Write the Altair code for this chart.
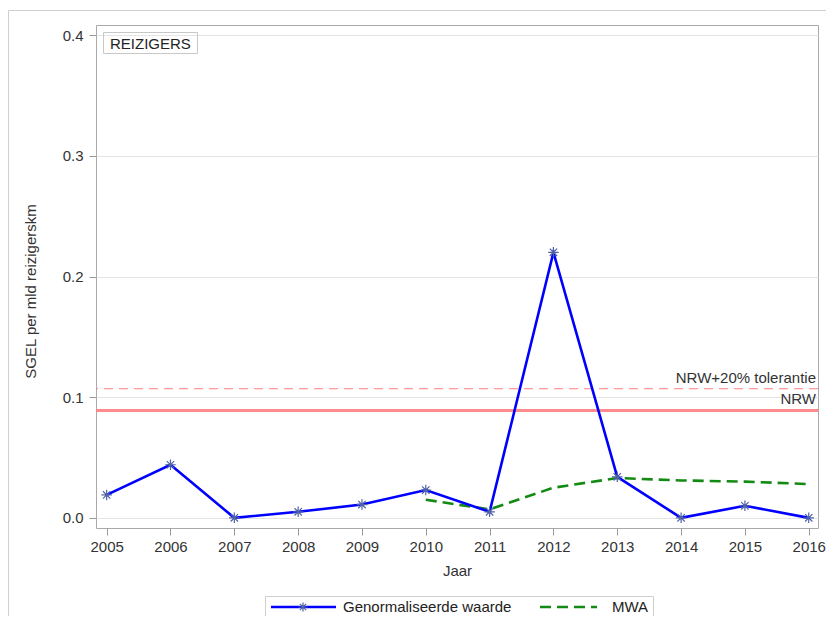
import altair as alt
import pandas as pd

# ---- data ----
years = [2005, 2006, 2007, 2008, 2009, 2010, 2011, 2012, 2013, 2014, 2015, 2016]
genormaliseerd = [0.019, 0.044, 0.000, 0.005, 0.011, 0.023, 0.005, 0.220, 0.034, 0.000, 0.010, 0.000]
mwa_years = [2010, 2011, 2012, 2013, 2014, 2015, 2016]
mwa_values = [0.015, 0.007, 0.025, 0.033, 0.031, 0.030, 0.028]
nrw_value = [0.089]
nrw_tol_value = [0.107]
y_ticks = [0.0, 0.1, 0.2, 0.3, 0.4]
series_names = ["Genormaliseerde waarde", "MWA"]
panel_label = "REIZIGERS"
nrw_label = "NRW"
nrw_tol_label = "NRW+20% tolerantie"

FONT = "Liberation Sans"
BLUE = "#0000ff"
GREEN = "#138a13"
PINK = "#ff8080"
STAR = "M-1,0L1,0M0,-1L0,1M-0.7,-0.7L0.7,0.7M-0.7,0.7L0.7,-0.7"

gen_df = pd.DataFrame({"Jaar": years, "waarde": genormaliseerd})
mwa_df = pd.DataFrame({"Jaar": mwa_years, "waarde": mwa_values})
nrw_df = pd.DataFrame({"waarde": nrw_value, "label": [nrw_label]})
tol_df = pd.DataFrame({"waarde": nrw_tol_value, "label": [nrw_tol_label]})
one = alt.Data(values=[{}])

x_scale = alt.Scale(domain=[2004.833, 2016.145], nice=False, zero=False)
y_scale = alt.Scale(domain=[-0.0084, 0.4084], nice=False, zero=False)

x_axis = alt.Axis(title="Jaar", values=years, format="d", grid=False, domain=False,
                  tickSize=7, tickColor="#999999", labelPadding=4, titlePadding=9,
                  labelFontSize=15, titleFontSize=15, labelColor="#333333",
                  titleColor="#333333", titleFontWeight="normal", labelFont=FONT, titleFont=FONT)
y_axis = alt.Axis(title="SGEL per mld reizigerskm", values=y_ticks, format=".1f", grid=True,
                  gridColor="#e4e4e4", domain=False, tickSize=7, tickColor="#999999",
                  labelPadding=6, titlePadding=24, titleY=266, labelFontSize=15, titleFontSize=15,
                  labelColor="#333333", titleColor="#333333", titleFontWeight="normal",
                  labelFont=FONT, titleFont=FONT)

X = alt.X("Jaar:Q", scale=x_scale, axis=x_axis)
Y = alt.Y("waarde:Q", scale=y_scale, axis=y_axis)

# outer figure border
outer = alt.Chart(one).mark_rect(fillOpacity=0, stroke="#d0d0d0", strokeWidth=1).encode(
    x=alt.value(-87.5), x2=alt.value(760), y=alt.value(-14.5), y2=alt.value(700))

tol_rule = alt.Chart(tol_df).mark_rule(color=PINK, strokeWidth=1, strokeDash=[9, 6]).encode(y=Y)
nrw_rule = alt.Chart(nrw_df).mark_rule(color=PINK, strokeWidth=3, opacity=0.9).encode(y=Y)
tol_text = alt.Chart(tol_df).mark_text(align="right", baseline="alphabetic", dy=-6,
                                       font=FONT, fontSize=15, color="#333333").encode(
    x=alt.value(720), y=Y, text="label:N")
nrw_text = alt.Chart(nrw_df).mark_text(align="right", baseline="alphabetic", dy=-6,
                                       font=FONT, fontSize=15, color="#333333").encode(
    x=alt.value(720), y=Y, text="label:N")

mwa_line = alt.Chart(mwa_df).mark_line(color=GREEN, strokeWidth=2.6, strokeDash=[11, 6]).encode(x=X, y=Y)
gen_line = alt.Chart(gen_df).mark_line(color=BLUE, strokeWidth=2.6).encode(x=X, y=Y)
gen_pts = alt.Chart(gen_df).mark_point(shape=STAR, size=110, filled=False, stroke="#4f62a8",
                                       strokeWidth=1.2, opacity=1).encode(x=X, y=Y)

# panel label box
lab_box = alt.Chart(one).mark_rect(fillOpacity=0, stroke="#c8c8c8", strokeWidth=1).encode(
    x=alt.value(7.5), x2=alt.value(101.5), y=alt.value(7.5), y2=alt.value(28.5))
lab_text = alt.Chart(one).mark_text(align="left", baseline="middle", font=FONT, fontSize=15,
                                    color="#222222").encode(
    x=alt.value(14), y=alt.value(18.5), text=alt.value(panel_label))

# legend (drawn below the plot)
LY = 582
leg_box = alt.Chart(one).mark_rect(fillOpacity=0, stroke="#cfcfcf", strokeWidth=1).encode(
    x=alt.value(169.5), x2=alt.value(557.5), y=alt.value(571.5), y2=alt.value(592.5))
leg_blue = alt.Chart(one).mark_rule(color=BLUE, strokeWidth=2.6).encode(
    x=alt.value(175), x2=alt.value(240), y=alt.value(LY))
leg_star = alt.Chart(one).mark_point(shape=STAR, size=80, filled=False, stroke="#4f62a8",
                                     strokeWidth=1.2, opacity=1).encode(
    x=alt.value(207), y=alt.value(LY))
leg_t1 = alt.Chart(one).mark_text(align="left", baseline="middle", font=FONT, fontSize=15,
                                  color="#222222").encode(
    x=alt.value(247), y=alt.value(LY), text=alt.value(series_names[0]))
leg_green = alt.Chart(one).mark_rule(color=GREEN, strokeWidth=2.6, strokeDash=[11, 6]).encode(
    x=alt.value(444), x2=alt.value(501), y=alt.value(LY))
leg_t2 = alt.Chart(one).mark_text(align="left", baseline="middle", font=FONT, fontSize=15,
                                  color="#222222").encode(
    x=alt.value(516), y=alt.value(LY), text=alt.value(series_names[1]))

chart = alt.layer(
    outer, tol_rule, nrw_rule, tol_text, nrw_text, mwa_line, gen_line, gen_pts,
    lab_box, lab_text, leg_box, leg_blue, leg_star, leg_t1, leg_green, leg_t2,
).properties(
    width=722, height=503,
    autosize=alt.AutoSizeParams(type="none"),
    padding={"left": 88, "top": 17, "right": 8, "bottom": 88},
    background="white",
).configure_view(stroke="#aaaaaa", strokeWidth=1)

chart.save("out.html", embed_options={"renderer": "svg", "actions": False})
